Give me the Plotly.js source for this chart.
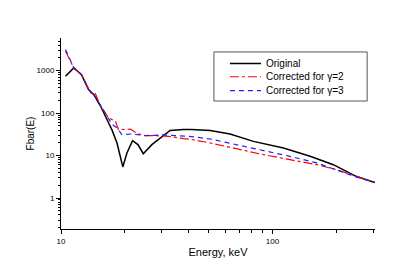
<!DOCTYPE html>
<html><head><meta charset="utf-8">
<script src="https://cdn.plot.ly/plotly-3.0.1.min.js"></script>
<style>html,body{margin:0;padding:0;background:#fff}#c{width:414px;height:270px}</style>
</head><body><div id="c"></div>
<script>
const energyOriginal = [10.5, 11.5, 12.5, 13.5, 14.3, 15.4, 16.8, 17.4, 18.4, 19.6, 20.5, 21.8, 23.1, 24.5, 26.9, 30, 32.8, 37.9, 41.4, 50.8, 63, 81.3, 112.7, 150.7, 194, 250, 305];
const fluxOriginal   = [740, 1165, 809, 358, 273, 145, 58.7, 40.8, 19.8, 5.4, 11.5, 22.5, 18.1, 11.1, 18.1, 28.4, 39, 41, 41, 39, 32.3, 21.6, 15.1, 9.6, 6.1, 3.2, 2.33];
const energyGamma2 = [10.5, 11.5, 12.5, 13.8, 14.5, 15.4, 16.8, 18.1, 18.7, 20.1, 21.3, 22.9, 25, 27.9, 32.2, 37.9, 41.4, 50.8, 67.9, 90.8, 121, 162, 201, 250, 305];
const fluxGamma2   = [2870, 1165, 809, 300, 300, 145, 77, 64, 40.8, 40.8, 42, 32.9, 29.5, 29.5, 28.4, 25, 24, 19.8, 14.3, 10.5, 8.0, 6.1, 4.65, 3.2, 2.33];
const energyGamma3 = [10.5, 11.5, 12.5, 13.5, 14.3, 15.4, 16.8, 17.4, 18.4, 19.4, 21.6, 25, 30, 37.9, 41.4, 50.8, 67.9, 90.8, 121, 162, 201, 250, 305];
const fluxGamma3   = [3150, 1165, 809, 358, 280, 150, 75, 55, 45, 31, 32.3, 29.5, 30.7, 28.4, 28, 24.6, 18.1, 13.3, 9.6, 6.7, 4.65, 3.1, 2.33];
const seriesNames = ["Original", "Corrected for γ=2", "Corrected for γ=3"];
const seriesColors = ['#000000', '#ff0000', '#2020ff'];
const seriesDash = ['solid', 'dashdot', '5px,4px'];
const seriesWidth = [1.5, 1.2, 1.2];
const xTickVals = [10, 100];
const xTickText = ["10", "100"];
const yTickVals = [1, 10, 100, 1000];
const yTickText = ["1", "10", "100", "1000"];
const xMinor = [20, 30, 40, 50, 60, 70, 80, 90, 200, 300];
const yMinor = [];
[0.1, 1, 10, 100, 1000].forEach(d => { for (let k = 2; k <= 9; k++) yMinor.push(d * k); });

const xs = [energyOriginal, energyGamma2, energyGamma3];
const ys = [fluxOriginal, fluxGamma2, fluxGamma3];
const traces = xs.map((x, i) => ({
  x: x, y: ys[i], name: seriesNames[i], mode: 'lines',
  line: {color: seriesColors[i], width: seriesWidth[i], dash: seriesDash[i]}
}));
const font = {family: 'Liberation Sans, Arial, sans-serif', color: '#000'};

// manual legend (box, samples, labels) in paper coordinates
const legRowsY = [0.867, 0.797, 0.724];
const shapes = [{
  type: 'rect', xref: 'paper', yref: 'paper',
  x0: 0.487, x1: 0.975, y0: 0.670, y1: 0.927,
  line: {color: '#555', width: 1}, fillcolor: 'rgba(0,0,0,0)'
}];
const annotations = [];
seriesNames.forEach((n, i) => {
  shapes.push({type: 'line', xref: 'paper', yref: 'paper', x0: 0.538, x1: 0.637, y0: legRowsY[i], y1: legRowsY[i],
    line: {color: seriesColors[i], width: seriesWidth[i], dash: seriesDash[i]}});
  annotations.push({xref: 'paper', yref: 'paper', x: 0.646, y: legRowsY[i], xanchor: 'left', yanchor: 'middle',
    text: n, showarrow: false, font: {size: 10, family: font.family, color: '#000'}});
});

const layout = {
  width: 414, height: 270,
  margin: {l: 61, r: 39, t: 38, b: 41},
  paper_bgcolor: '#fff', plot_bgcolor: '#fff',
  showlegend: false,
  font: font,
  xaxis: {
    type: 'log', range: [1, 2.485],
    tickvals: xTickVals, ticktext: xTickText,
    ticks: 'outside', ticklen: 4, tickcolor: '#000', tickwidth: 1,
    minor: {tickvals: xMinor, ticks: 'outside', ticklen: 3, tickcolor: '#000', showgrid: false},
    showline: true, linecolor: '#000', linewidth: 1,
    showgrid: false, zeroline: false,
    tickfont: {size: 8, family: font.family, color: '#000'},
    title: {text: 'Energy, keV', font: {size: 11, family: font.family, color: '#000'}, standoff: 3}
  },
  yaxis: {
    type: 'log', range: [-0.73, 3.77],
    tickvals: yTickVals, ticktext: yTickText,
    ticks: 'outside', ticklen: 4, tickcolor: '#000', tickwidth: 1,
    minor: {tickvals: yMinor, ticks: 'outside', ticklen: 2, tickcolor: '#000', showgrid: false},
    showline: true, linecolor: '#000', linewidth: 1,
    showgrid: false, zeroline: false,
    tickfont: {size: 8, family: font.family, color: '#000'},
    title: {text: 'Fbar(E)', font: {size: 10, family: font.family, color: '#000'}, standoff: 0}
  },
  shapes: shapes,
  annotations: annotations
};
Plotly.newPlot('c', traces, layout, {displayModeBar: false, staticPlot: true});
</script>
</body></html>
